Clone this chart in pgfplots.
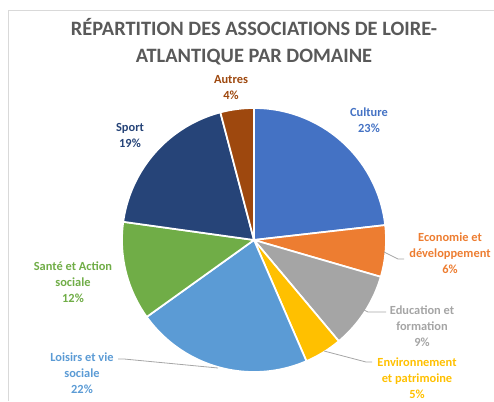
\documentclass[border=0pt]{standalone}
\usepackage{pgfplots}
\pgfplotsset{compat=1.18}
\usepackage{fontspec}
\setmainfont{Carlito}
\definecolor{cCul}{HTML}{4472C4}
\definecolor{cEco}{HTML}{ED7D31}
\definecolor{cEdu}{HTML}{A5A5A5}
\definecolor{cEnv}{HTML}{FFC000}
\definecolor{cLoi}{HTML}{5B9BD5}
\definecolor{cSan}{HTML}{70AD47}
\definecolor{cSpo}{HTML}{264478}
\definecolor{cAut}{HTML}{9E480E}
\definecolor{ctitle}{HTML}{595959}
\definecolor{cline}{HTML}{A6A6A6}
\definecolor{cborder}{HTML}{D9D9D9}
\tikzset{lbl/.style={font=\bfseries\fontsize{9.3}{12}\selectfont, align=center}}
% cumulative shares (%) : Culture 23.2, Economie 6.3, Education 9.4, Environnement 4.6,
% Loisirs 21.6, Sante 12.1, Sport 18.7, Autres 4.1
\newcommand\slice[3]{%
  \addplot[fill=#3, draw=white, line width=1.3pt, line join=round, domain=#1:#2, samples=80, variable=\t]
    ({254+132*sin(3.6*\t)}, {-240+132*cos(3.6*\t)}) -- (axis cs:254,-240) -- cycle;}
\begin{document}
\begin{tikzpicture}
\begin{axis}[
  at={(0,0)}, anchor=south west,
  scale only axis, width=370.5pt, height=300.75pt,
  xmin=0, xmax=494, ymin=-401, ymax=0,
  axis lines=none, clip=false,
]
\draw[cborder, line width=0.6pt] (axis cs:8,-401) -- (axis cs:8,-10) -- (axis cs:494,-10);
\slice{0}{23.2}{cCul}
\slice{23.2}{29.5}{cEco}
\slice{29.5}{38.9}{cEdu}
\slice{38.9}{43.5}{cEnv}
\slice{43.5}{65.1}{cLoi}
\slice{65.1}{77.2}{cSan}
\slice{77.2}{95.9}{cSpo}
\slice{95.9}{100}{cAut}
\node[font=\bfseries\fontsize{15.3}{20}\selectfont, text=ctitle, align=center] at (axis cs:254,-42)
  {RÉPARTITION DES ASSOCIATIONS DE LOIRE-\\ATLANTIQUE PAR DOMAINE};
\node[lbl, text=cCul] at (axis cs:369,-120) {Culture\\23\%};
\node[lbl, text=cEco] at (axis cs:450,-253) {Economie et\\développement\\6\%};
\node[lbl, text=cEdu] at (axis cs:422,-326) {Education et\\formation\\9\%};
\node[lbl, text=cEnv] at (axis cs:417,-378) {Environnement\\et patrimoine\\5\%};
\node[lbl, text=cLoi] at (axis cs:82,-373) {Loisirs et vie\\sociale\\22\%};
\node[lbl, text=cSan] at (axis cs:73,-282) {Santé et Action\\sociale\\12\%};
\node[lbl, text=cSpo] at (axis cs:130,-135) {Sport\\19\%};
\node[lbl, text=cAut] at (axis cs:231,-88) {Autres\\4\%};
\draw[cline, line width=0.6pt] (axis cs:384,-252) -- (axis cs:398,-259) -- (axis cs:404,-259);
\draw[cline, line width=0.6pt] (axis cs:362,-309) -- (axis cs:368,-312) -- (axis cs:386,-312);
\draw[cline, line width=0.6pt] (axis cs:324,-351) -- (axis cs:366,-362) -- (axis cs:372,-362);
\draw[cline, line width=0.6pt] (axis cs:118,-359) -- (axis cs:124,-359) -- (axis cs:218,-368);
\end{axis}
\pgfresetboundingbox
\useasboundingbox (current axis.south west) rectangle (current axis.north east);
\end{tikzpicture}
\end{document}
